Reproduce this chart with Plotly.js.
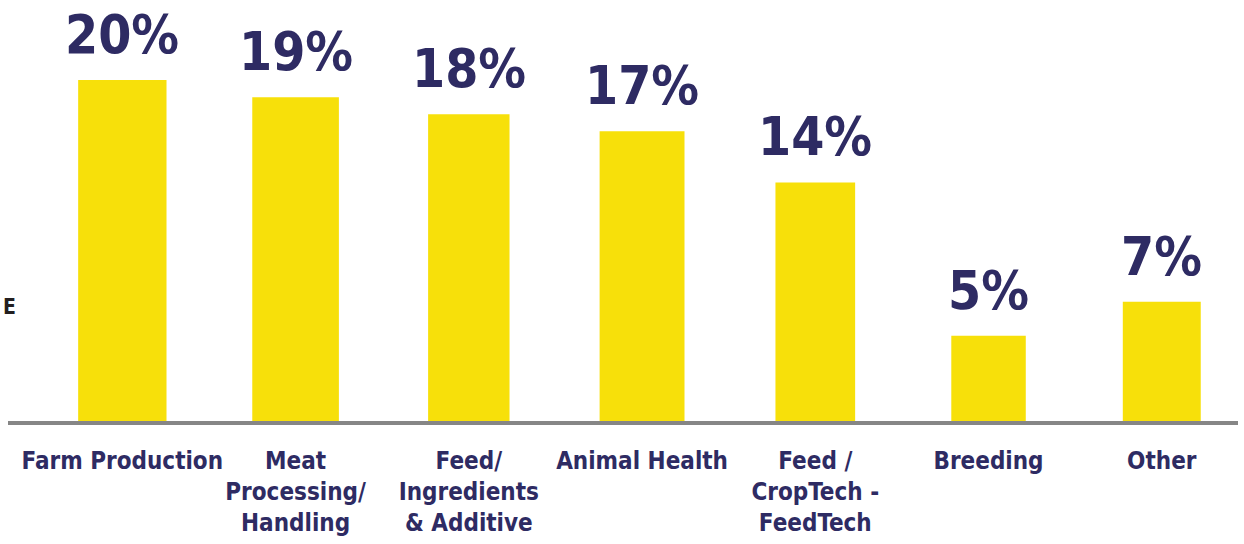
<!DOCTYPE html>
<html>
<head>
<meta charset="utf-8">
<script src="https://cdn.plot.ly/plotly-3.0.1.min.js"></script>
<style>html,body{margin:0;padding:0;background:#fff;}#chart{width:1244px;height:544px;}</style>
</head>
<body>
<div id="chart"></div>
<script>
const categories = ["Farm Production", "Meat<br>Processing/<br>Handling", "Feed/<br>Ingredients<br>& Additive", "Animal Health", "Feed /<br>CropTech -<br>FeedTech", "Breeding", "Other"];
const values = [20, 19, 18, 17, 14, 5, 7];
const valueLabels = ["20%", "19%", "18%", "17%", "14%", "5%", "7%"];

const NAVY = "#2E2B63";
const FONT = "'DejaVu Sans Condensed', 'Liberation Sans Narrow', sans-serif";

const trace = {
  type: "bar",
  x: categories,
  y: values,
  width: [0.51, 0.50, 0.47, 0.49, 0.46, 0.43, 0.45],
  marker: {color: "#F7E00A", line: {width: 0}},
  hoverinfo: "none"
};

const annotations = categories.map((c, i) => ({
  x: c, y: values[i], xref: "x", yref: "y",
  text: "<b>" + valueLabels[i] + "</b>",
  showarrow: false, yanchor: "bottom", yshift: 13,
  font: {family: FONT, size: 53, color: NAVY}
}));
annotations.push({
  xref: "paper", yref: "paper", x: -0.006, y: 0.27, xanchor: "left", yanchor: "middle",
  text: "<b>E</b>", showarrow: false,
  font: {family: FONT, size: 21, color: "#231F20"}
});

const layout = {
  width: 1244, height: 544,
  margin: {l: 8, r: 6, t: 0, b: 123},
  paper_bgcolor: "#fff", plot_bgcolor: "#fff",
  showlegend: false,
  bargap: 0.5,
  xaxis: {
    type: "category",
    range: [-0.66, 6.44],
    showline: true, linecolor: "#868686", linewidth: 4,
    showgrid: false, zeroline: false, ticks: "",
    tickangle: 0, ticklabelstandoff: 15,
    tickfont: {family: FONT, size: 24, color: NAVY, weight: "bold"},
    fixedrange: true
  },
  yaxis: {
    range: [0, 24.7], visible: false, showgrid: false, zeroline: false, fixedrange: true
  },
  annotations: annotations
};

Plotly.newPlot("chart", [trace], layout, {displayModeBar: false, staticPlot: true});
</script>
</body>
</html>
